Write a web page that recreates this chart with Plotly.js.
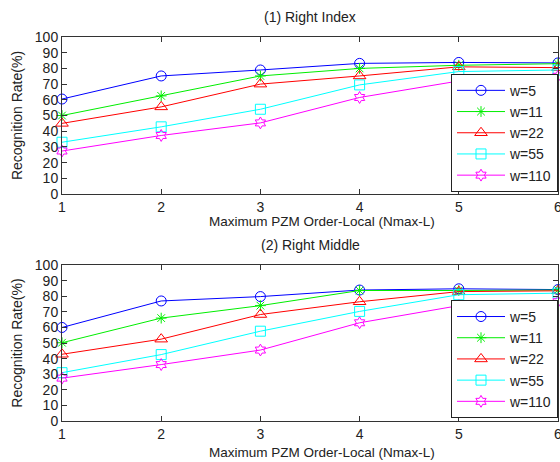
<!DOCTYPE html>
<html><head><meta charset="utf-8">
<script src="https://cdn.plot.ly/plotly-3.0.1.min.js"></script>
<style>body{margin:0;background:#fff}#c{width:560px;height:462px}</style>
</head><body><div id="c"></div>
<script>
const orders = [1, 2, 3, 4, 5, 6];
const seriesNames = ['w=5', 'w=11', 'w=22', 'w=55', 'w=110'];
// (1) Right Index
const idx_w5   = [60.5, 75.2, 79, 83.2, 83.8, 83.5];
const idx_w11  = [50, 62.5, 75.2, 80, 82, 83];
const idx_w22  = [45, 55.5, 70, 75.2, 81, 80.5];
const idx_w55  = [33, 42.8, 54, 69.5, 78, 79];
const idx_w110 = [27.4, 37.3, 45.3, 61.5, 72, 75];
// (2) Right Middle
const mid_w5   = [60, 77, 79.8, 84, 84.8, 84.3];
const mid_w11  = [50.2, 66, 74, 83.7, 83.7, 84];
const mid_w22  = [42.8, 52.5, 68.3, 76.5, 83, 83.5];
const mid_w55  = [31, 42.6, 57.6, 70.3, 81, 82];
const mid_w110 = [27.5, 36.2, 45.5, 63, 74, 76.5];
const xTitle = 'Maximum PZM Order-Local (Nmax-L)';
const yTitle = 'Recognition Rate(%)';
const titles = ['(1) Right Index', '(2) Right Middle'];

const colors = ['#0000ff', '#00ee00', '#ff0000', '#00ffff', '#ff00ff'];
const symbols = ['circle-open', 'asterisk-open', 'triangle-up-open', 'square-open', 'hexagram-open'];
const sizes = [10, 9, 11, 10, 9];
const font = 'Liberation Sans, Arial, sans-serif';

const topData = [idx_w5, idx_w11, idx_w22, idx_w55, idx_w110];
const botData = [mid_w5, mid_w11, mid_w22, mid_w55, mid_w110];
const traces = [];
topData.forEach((ys, i) => traces.push({
  x: orders, y: ys, name: seriesNames[i], type: 'scatter', mode: 'lines+markers',
  xaxis: 'x', yaxis: 'y', legend: 'legend', cliponaxis: false,
  line: {color: colors[i], width: 1},
  marker: {symbol: symbols[i], size: sizes[i], color: colors[i], line: {color: colors[i], width: 1}}
}));
botData.forEach((ys, i) => traces.push({
  x: orders, y: ys, name: seriesNames[i], type: 'scatter', mode: 'lines+markers',
  xaxis: 'x2', yaxis: 'y2', legend: 'legend2', cliponaxis: false,
  line: {color: colors[i], width: 1},
  marker: {symbol: symbols[i], size: sizes[i], color: colors[i], line: {color: colors[i], width: 1}}
}));

const axCommon = {
  showline: true, linecolor: '#333', linewidth: 1, mirror: 'ticks',
  ticks: 'inside', ticklen: 5, tickcolor: '#333', showgrid: false, zeroline: false,
  tickfont: {family: font, size: 14, color: '#222'}, ticklabeloverflow: 'allow'
};
const xax = (anchor) => Object.assign({}, axCommon, {
  anchor: anchor, range: [1, 6], tickvals: orders, domain: [0, 1]
});
const yax = (anchor, dom) => Object.assign({}, axCommon, {
  anchor: anchor, range: [0, 100], dtick: 10, domain: dom,
  title: {text: yTitle, font: {family: font, size: 14, color: '#222'}, standoff: 8}
});
const legendCommon = {
  bgcolor: '#fff', bordercolor: '#222', borderwidth: 1,
  font: {family: font, size: 14, color: '#222'}, itemwidth: 48,
  xanchor: 'right', yanchor: 'bottom', x: 1, tracegroupgap: 0
};
const tFont = {family: font, size: 14, color: '#222'};
const xtFont = {family: font, size: 13.5, color: '#222'};
const layout = {
  width: 560, height: 462,
  margin: {l: 62, r: 2, t: 37, b: 41},
  paper_bgcolor: '#fff', plot_bgcolor: '#fff',
  xaxis: xax('y'), yaxis: yax('x', [0.591, 1]),
  xaxis2: xax('y2'), yaxis2: yax('x2', [0, 0.406]),
  legend: Object.assign({}, legendCommon, {y: 0.597}),
  legend2: Object.assign({}, legendCommon, {y: 0.008}),
  annotations: [
    {text: titles[0], xref: 'paper', yref: 'paper', x: 0.5, y: 1, yshift: 10, yanchor: 'bottom', showarrow: false, font: tFont},
    {text: titles[1], xref: 'paper', yref: 'paper', x: 0.5, y: 0.406, yshift: 10, yanchor: 'bottom', showarrow: false, font: tFont},
    {text: xTitle, xref: 'paper', yref: 'paper', x: 0.524, y: 0.591, yshift: -27, yanchor: 'middle', showarrow: false, font: xtFont},
    {text: xTitle, xref: 'paper', yref: 'paper', x: 0.524, y: 0, yshift: -31, yanchor: 'middle', showarrow: false, font: xtFont}
  ],
  showlegend: true
};
Plotly.newPlot('c', traces, layout, {displayModeBar: false, staticPlot: true});
</script></body></html>
